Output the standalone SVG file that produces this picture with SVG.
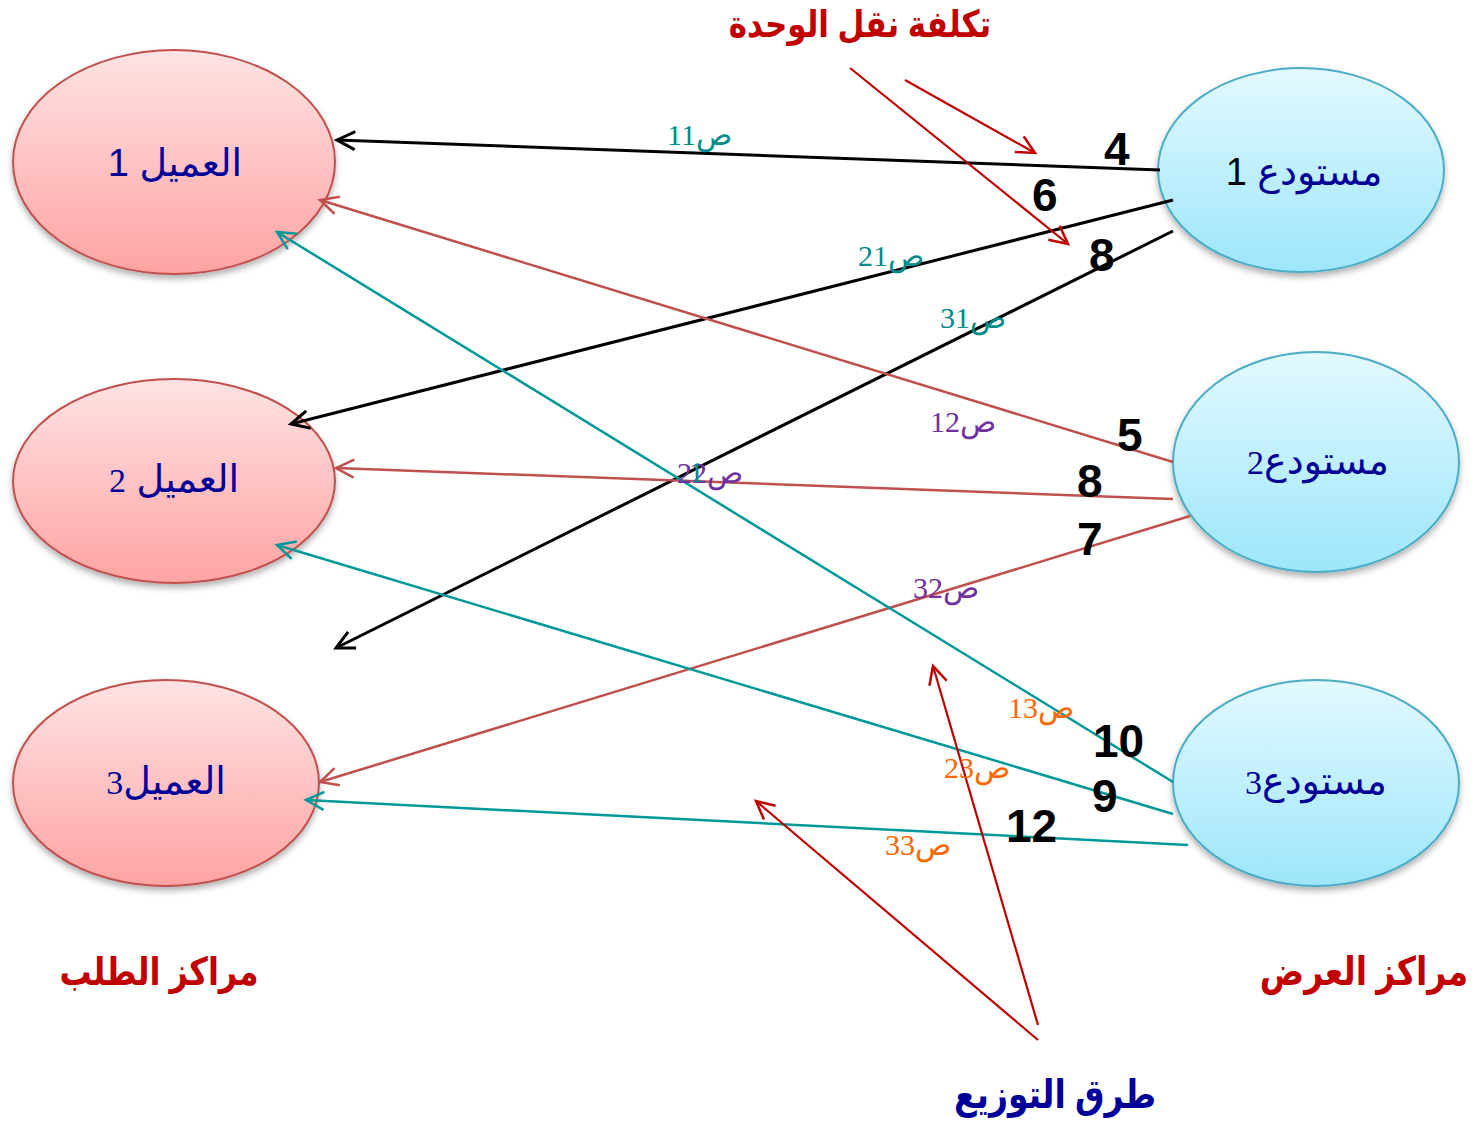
<svg xmlns="http://www.w3.org/2000/svg" width="1476" height="1121" viewBox="0 0 1476 1121">
<defs>
<linearGradient id="gPink" x1="0" y1="0" x2="0" y2="1">
<stop offset="0" stop-color="#ffe3e3"/><stop offset="1" stop-color="#ffa3a3"/>
</linearGradient>
<linearGradient id="gBlue" x1="0" y1="0" x2="0" y2="1">
<stop offset="0" stop-color="#e3f9ff"/><stop offset="1" stop-color="#9de6fb"/>
</linearGradient>
<filter id="sh" x="-10%" y="-10%" width="120%" height="130%">
<feDropShadow dx="0" dy="4" stdDeviation="3" flood-color="#000" flood-opacity="0.3"/>
</filter>
<marker id="aK" markerUnits="userSpaceOnUse" markerWidth="26" markerHeight="26" viewBox="-22 -13 26 26" refX="0" refY="0" orient="auto"><path d="M-18,-9 L0,0 L-18,9" fill="none" stroke="#000" stroke-width="3"/></marker>
<marker id="aB" markerUnits="userSpaceOnUse" markerWidth="26" markerHeight="26" viewBox="-22 -13 26 26" refX="0" refY="0" orient="auto"><path d="M-18,-9 L0,0 L-18,9" fill="none" stroke="#c0504d" stroke-width="2.5"/></marker>
<marker id="aT" markerUnits="userSpaceOnUse" markerWidth="26" markerHeight="26" viewBox="-22 -13 26 26" refX="0" refY="0" orient="auto"><path d="M-18,-9 L0,0 L-18,9" fill="none" stroke="#009999" stroke-width="2.5"/></marker>
<marker id="aR" markerUnits="userSpaceOnUse" markerWidth="26" markerHeight="26" viewBox="-22 -13 26 26" refX="0" refY="0" orient="auto"><path d="M-18,-9 L0,0 L-18,9" fill="none" stroke="#c00000" stroke-width="2.5"/></marker>
</defs>
<style>
.pink{fill:url(#gPink);stroke:#c0504d;stroke-width:2;filter:url(#sh)}
.blue{fill:url(#gBlue);stroke:#4bacc6;stroke-width:2;filter:url(#sh)}
.nt{font-family:"Liberation Sans","DejaVu Sans",sans-serif;font-size:38px;fill:#000099;text-anchor:middle}
.dig{font-family:"Liberation Serif",serif}
.k{stroke:#000;stroke-width:3;fill:none;marker-end:url(#aK)}
.b{stroke:#c0504d;stroke-width:2.5;fill:none;marker-end:url(#aB)}
.t{stroke:#009999;stroke-width:2.5;fill:none;marker-end:url(#aT)}
.r{stroke:#c00000;stroke-width:2.2;fill:none;marker-end:url(#aR)}
.lbl{font-family:"Liberation Serif","DejaVu Serif",serif;font-size:30px}
.teal{fill:#008b8b}.pur{fill:#7030a0}.org{fill:#ff6600}
.num{font-family:"Liberation Sans",Arial,sans-serif;font-weight:bold;font-size:46px;fill:#000}
.hd{font-family:"Liberation Sans","DejaVu Sans",sans-serif;font-weight:bold;text-anchor:middle}
</style>

<g id="client1"><ellipse class="pink" cx="174" cy="162" rx="161" ry="112"/><text class="nt" x="175" y="176">العميل 1</text></g>
<g id="client2"><ellipse class="pink" cx="174" cy="481" rx="161" ry="102"/><text class="nt" x="174" y="492">العميل <tspan class="dig" font-size="34">2</tspan></text></g>
<g id="client3"><ellipse class="pink" cx="166" cy="783" rx="153" ry="103"/><text class="nt" x="166" y="794">العميل<tspan class="dig" font-size="34">3</tspan></text></g>

<g id="depot1"><ellipse class="blue" cx="1301" cy="170" rx="143" ry="102"/><text class="nt" x="1304" y="185">مستودع <tspan fill="#000">1</tspan></text></g>
<g id="depot2"><ellipse class="blue" cx="1316" cy="462" rx="143" ry="110"/><text class="nt" x="1318" y="474">مستودع<tspan class="dig" font-size="34">2</tspan></text></g>
<g id="depot3"><ellipse class="blue" cx="1316" cy="783" rx="143" ry="103"/><text class="nt" x="1316" y="794">مستودع<tspan class="dig" font-size="34">3</tspan></text></g>

<g id="connectors">
<line class="k" x1="1160" y1="170" x2="337" y2="140"/>
<line class="k" x1="1173" y1="200" x2="291" y2="424"/>
<line class="k" x1="1173" y1="231" x2="336" y2="648"/>
<line class="b" x1="1173" y1="462" x2="320" y2="200"/>
<line class="b" x1="1173" y1="499" x2="336" y2="468"/>
<line class="b" x1="1190" y1="516" x2="320" y2="782"/>
<line class="t" x1="1173" y1="782" x2="277" y2="232"/>
<line class="t" x1="1173" y1="814" x2="277" y2="545"/>
<line class="t" x1="1188" y1="845" x2="306" y2="800"/>
<line class="r" x1="850" y1="68" x2="1068" y2="244"/>
<line class="r" x1="905" y1="80" x2="1035" y2="153"/>
<line class="r" x1="1038" y1="1025" x2="933" y2="666"/>
<line class="r" x1="1038" y1="1040" x2="756" y2="801"/>
</g>

<g id="cost-labels">
<text class="lbl teal" x="667" y="145">ص11</text>
<text class="lbl teal" x="858" y="266">ص21</text>
<text class="lbl teal" x="940" y="328">ص31</text>
<text class="lbl pur" x="930" y="432">ص12</text>
<text class="lbl pur" x="677" y="483">ص22</text>
<text class="lbl teal" x="689" y="482">1</text>
<text class="lbl pur" x="913" y="598">ص32</text>
<text class="lbl org" x="1008" y="718">ص13</text>
<text class="lbl org" x="944" y="778">ص23</text>
<text class="lbl org" x="885" y="855">ص33</text>
</g>

<g id="costs">
<text class="num" x="1104" y="165">4</text>
<text class="num" x="1032" y="211">6</text>
<text class="num" x="1089" y="271">8</text>
<text class="num" x="1117" y="451">5</text>
<text class="num" x="1077" y="497">8</text>
<text class="num" x="1077" y="555">7</text>
<text class="num" x="1093" y="757">10</text>
<text class="num" x="1092" y="812">9</text>
<text class="num" x="1006" y="842">12</text>
</g>

<g id="titles">
<text class="hd" transform="translate(860,37) scale(1,1.2)" font-size="31" fill="#c00000">تكلفة نقل الوحدة</text>
<text class="hd" transform="translate(159,985) scale(1,1.2)" font-size="32" fill="#c00000">مراكز الطلب</text>
<text class="hd" transform="translate(1364,985) scale(1,1.2)" font-size="33" fill="#c00000">مراكز العرض</text>
<text class="hd" transform="translate(1055,1108) scale(1,1.2)" font-size="33" fill="#000099">طرق التوزيع</text>
</g>
</svg>
